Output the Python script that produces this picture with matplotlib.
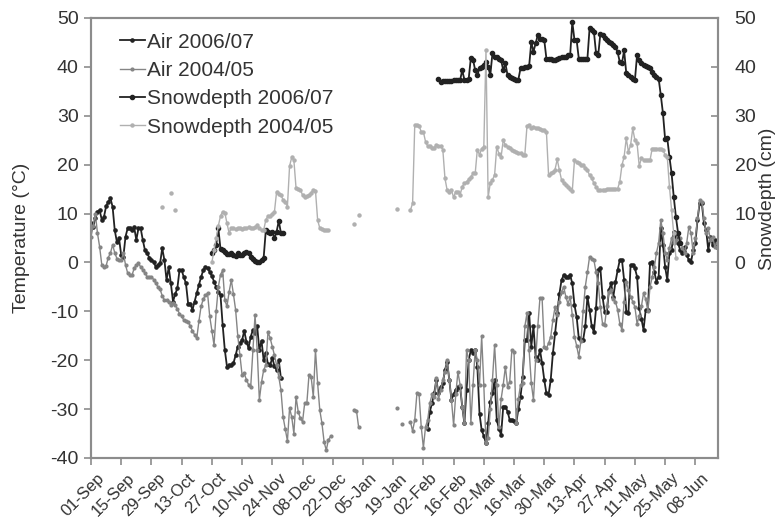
import numpy as np
import matplotlib
matplotlib.use("Agg")
import matplotlib.pyplot as plt
import matplotlib.transforms as mtransforms

plt.rcParams['font.family'] = ['Liberation Sans', 'DejaVu Sans']
plt.rcParams['axes.unicode_minus'] = False

# day 0 = 01-Sep, one value per day
n_days = 291
tick_days = list(range(0, 281, 14))
tick_labels = ['01-Sep', '15-Sep', '29-Sep', '13-Oct', '27-Oct', '10-Nov', '24-Nov',
               '08-Dec', '22-Dec', '05-Jan', '19-Jan', '02-Feb', '16-Feb', '02-Mar',
               '16-Mar', '30-Mar', '13-Apr', '27-Apr', '11-May', '25-May', '08-Jun']

# Air temperature 2006/07 (deg C): days 0-88 and 156-290
air0607_fall = [8.0, 7.3, 9.0, 10.4, 10.7, 8.7, 9.3, 11.5, 12.4, 13.1,
                11.4, 6.6, 4.2, 4.9, 1.5, 1.2, 5.3, 7.0, 7.0, 6.6,
                7.2, 4.6, 7.0, 7.0, 4.6, 2.5, 1.9, 1.0, 0.5, 0.1,
                -0.9, -0.5, -0.2, 2.9, 0.5, -3.6, -1.0, -4.3, -8.0, -6.5,
                -5.3, -1.6, -1.6, -3.0, -4.3, -8.4, -8.4, -9.7, -8.0, -6.3,
                -4.6, -3.0, -1.6, -1.0, -1.2, -1.9, -2.8, -3.9, -5.0, -6.0,
                -6.7, -12.8, -17.9, -21.3, -21.0, -21.0, -20.6, -19.0, -17.2, -16.5,
                -15.9, -14.0, -16.2, -17.5, -15.2, -13.8, -14.5, -13.1, -17.9, -16.0,
                -20.0, -18.5, -20.8, -21.0, -19.5, -21.2, -22.0, -20.0, -23.7]
air0607_spring = [-34.0, -30.5, -28.8, -26.8, -24.0, -26.8, -25.5, -24.7, -22.0, -20.3,
                  -24.0, -28.1, -27.0, -26.0, -25.4, -25.4, -29.5, -32.9, -26.0, -20.0,
                  -17.9, -18.6, -17.9, -21.3, -30.9, -34.3, -35.5, -37.0, -32.9, -28.5,
                  -26.8, -24.0, -32.2, -34.0, -35.3, -29.5, -29.5, -30.5, -32.2, -32.2,
                  -32.5, -32.9, -30.0, -27.5, -23.4, -15.9, -15.9, -10.4, -17.2, -13.1,
                  -19.3, -20.0, -17.9, -20.6, -24.0, -26.8, -27.1, -24.0, -18.6, -14.5,
                  -10.4, -6.5, -3.6, -2.6, -2.9, -2.9, -2.6, -4.3, -8.7, -11.1,
                  -15.5, -15.9, -15.9, -13.1, -7.0, -9.7, -13.1, -14.2, -9.4, -1.6,
                  -1.2, -7.0, -10.1, -10.1, -5.6, -4.3, -7.0, -4.0, -1.6, 0.5,
                  0.5, -3.6, -10.1, -10.4, -0.5, -0.5, -1.2, -2.9, -9.4, -11.5,
                  -13.8, -9.7, -9.7, -0.2, 0.1, -2.0, -3.9, -2.9, 7.0, 3.6,
                  -0.9, -3.6, 1.9, 2.5, 6.3, 5.3, 3.9, 2.5, 1.9, 3.2,
                  1.5, 0.5, 0.1, 2.5, 3.9, 8.7, 12.1, 12.1, 8.0, 6.6,
                  2.5, 5.3, 3.6, 4.6, 3.2]

# Air temperature 2004/05 (deg C): days 0-111, a few in Jan, 148-290
air0405_fall = [5.3, 7.5, 10.0, 6.0, 3.2, -0.5, -0.9, -0.7, 1.0, 1.9,
                3.6, 2.0, 0.8, 0.5, 0.5, 1.9, -0.5, -2.2, -2.6, -2.6,
                -1.2, -0.5, -0.2, -0.9, -1.5, -2.2, -2.9, -2.9, -2.9, -3.5,
                -4.2, -5.0, -5.5, -6.8, -7.7, -7.7, -8.0, -8.7, -8.2, -8.7,
                -9.5, -10.5, -11.0, -11.8, -12.0, -12.1, -13.0, -14.0, -14.8, -15.5,
                -12.0, -9.0, -7.5, -6.7, -6.3, -11.0, -14.0, -16.9, -10.0, -5.0,
                -2.5, -1.6, -7.7, -9.0, -6.0, -3.6, -6.5, -9.7, -15.0, -19.0,
                -23.0, -22.7, -24.0, -25.0, -25.4, -18.0, -10.8, -17.9, -28.1, -24.5,
                -22.0, -21.0, -14.2, -15.5, -17.2, -19.0, -21.0, -23.4, -26.1, -31.6,
                -34.0, -36.5, -29.8, -31.6, -35.0, -27.5, -30.5, -31.9, -32.6, -28.8,
                -28.8, -23.0, -23.4, -27.5, -17.9, -24.7, -30.2, -32.9, -36.7, -38.4,
                -36.3, -35.6]
air0405_jan_days = [122, 123, 124, 142, 144]
air0405_jan = [-30.1, -30.3, -33.7, -29.8, -33.0]
air0405_spring = [-32.6, -34.5, -32.2, -26.8, -27.0, -33.6, -37.9, -33.6, -32.2, -28.8,
                  -27.0, -27.5, -23.7, -28.0, -26.1, -24.0, -22.5, -20.0, -24.0, -28.1,
                  -33.3, -27.0, -22.4, -25.0, -29.5, -32.9, -17.9, -20.0, -32.9, -25.0,
                  -17.9, -20.0, -25.0, -15.1, -25.1, -37.0, -36.0, -30.0, -24.0, -16.9,
                  -25.0, -33.6, -28.0, -25.0, -21.3, -25.4, -24.4, -17.9, -18.3, -32.9,
                  -28.0, -25.0, -24.7, -13.1, -10.4, -18.0, -24.7, -28.1, -20.0, -13.1,
                  -7.3, -7.3, -17.2, -17.6, -16.5, -15.2, -11.8, -9.1, -10.8, -8.0,
                  -6.0, -5.0, -7.0, -8.5, -7.0, -10.8, -15.2, -17.0, -19.3, -16.0,
                  -10.0, -5.0, -2.0, 1.2, 0.8, 0.5, -2.0, -4.3, -9.1, -12.5,
                  -12.8, -9.0, -6.0, -5.6, -7.5, -8.0, -9.7, -12.5, -13.8, -8.0,
                  -4.0, -5.6, -7.0, -8.0, -9.1, -12.5, -11.0, -9.0, -6.3, -7.5,
                  -10.0, -5.0, -3.0, -1.0, 2.0, 4.0, 8.7, 6.0, 2.0, 0.5,
                  3.0, 5.0, 3.9, 4.5, 6.0, 5.0, 3.0, 2.0, 4.0, 7.3,
                  6.0, 1.9, 5.0, 9.0, 12.8, 12.4, 9.0, 6.0, 7.0, 4.6,
                  5.3, 3.2, 4.0]

# Snow depth 2006/07 (cm): days 56-89 and 161-273
snow0607_fall = [2.0, 2.5, 3.5, 7.0, 2.7, 2.5, 2.2, 1.7, 1.7, 1.9,
                 1.5, 1.3, 2.0, 1.5, 1.5, 1.9, 2.2, 2.0, 1.2, 0.8,
                 0.3, 0.1, 0.1, 0.5, 1.0, 6.6, 6.3, 6.1, 6.3, 4.9,
                 6.3, 8.5, 6.0, 6.1]
snow0607_spring = [37.6, 37.0, 37.2, 37.2, 37.2, 37.2, 37.2, 37.3, 37.3, 37.3,
                   37.3, 39.3, 37.4, 37.4, 37.6, 41.9, 41.5, 39.3, 38.3, 39.7,
                   40.0, 40.4, 41.0, 40.0, 38.3, 42.8, 42.1, 42.0, 41.7, 41.4,
                   39.3, 40.7, 38.3, 38.0, 37.8, 37.6, 37.4, 37.4, 39.7, 39.8,
                   40.0, 40.0, 40.2, 45.1, 43.1, 44.8, 46.5, 45.8, 45.7, 45.5,
                   41.7, 41.7, 41.7, 41.5, 41.4, 41.6, 41.8, 42.1, 42.1, 42.1,
                   42.4, 42.4, 49.2, 45.5, 45.5, 41.7, 41.7, 41.7, 41.7, 41.7,
                   47.9, 47.5, 47.2, 42.8, 42.4, 46.8, 46.5, 46.0, 45.5, 45.1,
                   44.8, 44.5, 44.1, 43.0, 41.0, 40.7, 43.4, 38.7, 38.3, 38.0,
                   37.6, 37.3, 42.4, 41.5, 40.7, 40.4, 40.2, 40.0, 39.7, 39.0,
                   38.3, 37.9, 37.6, 34.2, 30.5, 25.2, 25.4, 21.6, 18.2, 13.4,
                   9.3, 6.0, 4.0]

# Snow depth 2004/05 (cm): scattered days, 56-110 and 148-271
snow0405_dots_days = [33, 37, 39, 122, 124, 142]
snow0405_dots = [11.3, 14.3, 10.8, 7.9, 9.7, 10.9]
snow0405_fall = [0.0, 2.5, 5.0, 7.5, 9.5, 10.4, 10.2, 8.0, 6.0, 7.1,
                 7.0, 6.8, 7.0, 7.0, 6.8, 7.0, 7.0, 7.2, 7.0, 7.0,
                 7.2, 7.6, 7.0, 6.6, 6.6, 8.7, 9.5, 9.5, 10.0, 10.4,
                 14.5, 14.0, 13.8, 12.8, 12.4, 11.4, 19.7, 21.5, 20.9, 15.2,
                 15.0, 14.9, 13.8, 13.4, 13.6, 13.8, 14.3, 14.8, 14.7, 8.7,
                 7.0, 6.8, 6.6, 6.6, 6.6]
snow0405_spring = [10.7, 12.1, 28.1, 28.1, 28.0, 26.7, 26.7, 24.7, 23.8, 23.8,
                   23.5, 23.5, 24.0, 23.8, 23.8, 23.1, 17.2, 14.8, 14.5, 14.8,
                   13.3, 14.5, 14.5, 13.8, 15.5, 16.2, 16.5, 17.0, 17.5, 18.2,
                   18.2, 23.1, 22.0, 23.3, 23.7, 43.4, 13.3, 16.3, 16.9, 17.9,
                   23.7, 22.2, 21.6, 25.0, 24.0, 23.7, 23.5, 23.0, 22.8, 22.6,
                   22.4, 22.3, 22.0, 22.0, 27.9, 28.1, 27.4, 27.8, 27.6, 27.4,
                   27.2, 27.1, 27.0, 26.7, 17.9, 18.2, 18.5, 19.0, 21.1, 18.9,
                   16.9, 16.2, 15.8, 15.5, 15.0, 14.7, 20.9, 20.5, 20.3, 20.0,
                   19.9, 19.4, 18.9, 17.8, 17.2, 16.2, 15.5, 14.8, 14.8, 14.9,
                   14.9, 15.0, 15.0, 15.0, 15.1, 15.1, 15.1, 16.5, 19.9, 21.6,
                   25.4, 22.6, 24.0, 27.4, 25.0, 24.4, 19.7, 21.3, 21.0, 20.9,
                   20.9, 20.9, 23.3, 23.3, 23.3, 23.3, 23.2, 23.0, 22.0, 21.6,
                   15.5, 10.7, 6.0, 1.0]


def daily(parts):
    # build one daily series with gaps (NaN) from (start day, values) pieces
    arr = np.full(n_days, np.nan)
    for start, vals in parts:
        arr[start:start + len(vals)] = vals
    return arr


days = np.arange(n_days)
air0607 = daily([(0, air0607_fall), (156, air0607_spring)])
air0405 = daily([(0, air0405_fall), (148, air0405_spring)])
for d, v in zip(air0405_jan_days, air0405_jan):
    air0405[d] = v
snow0607 = daily([(56, snow0607_fall), (161, snow0607_spring)])
snow0405 = daily([(56, snow0405_fall), (148, snow0405_spring)])
for d, v in zip(snow0405_dots_days, snow0405_dots):
    snow0405[d] = v

fig = plt.figure(figsize=(7.81, 5.24), dpi=100)
ax = fig.add_axes([91 / 781, 1 - 458 / 524, 627 / 781, 440 / 524])
ax2 = ax.twinx()

black = '#222222'
grey = '#858585'
light = '#b0b0b0'
frame = '#8c8c8c'
txt = '#333333'

l1, = ax.plot(days, air0607, color=black, lw=1.3, marker='o', ms=2.3, label='Air 2006/07')
l2, = ax.plot(days, air0405, color=grey, lw=1.0, marker='o', ms=2.0, label='Air 2004/05')
l3, = ax2.plot(days, snow0607, color=black, lw=1.3, marker='o', ms=3.0, label='Snowdepth 2006/07')
l4, = ax2.plot(days, snow0405, color=light, lw=1.0, marker='o', ms=2.2, label='Snowdepth 2004/05')

for a in (ax, ax2):
    a.set_xlim(0, 290.5)
    a.set_ylim(-40, 50)
    for s in a.spines.values():
        s.set_color(frame)
        s.set_linewidth(1.5)

ax.set_yticks(range(-40, 51, 10))
ax2.set_yticks(range(0, 51, 10))
ax.set_xticks(tick_days)
ax.set_xticklabels(tick_labels, rotation=45, ha='right', rotation_mode='anchor', fontsize=12)
ax.tick_params(axis='y', direction='out', length=5, width=1.2, colors=frame,
               labelcolor=txt, labelsize=14, pad=4)
ax.tick_params(axis='x', direction='out', length=5, width=1.2, colors=frame,
               labelcolor=txt, pad=3)
ax2.tick_params(axis='y', direction='in', length=5, width=1.2, colors=frame,
                labelcolor=txt, labelsize=14, pad=12)
# nudge the slanted date labels a little to the right, as in the original
shift = mtransforms.ScaledTranslation(6 / 100, -1 / 100, fig.dpi_scale_trans)
for lab in ax.get_xticklabels():
    lab.set_transform(lab.get_transform() + shift)

ax.set_ylabel('Temperature (°C)', fontsize=14, color=txt)
ax.yaxis.set_label_coords(-0.097, 0.5)
ax2.set_ylabel('Snowdepth (cm)', fontsize=14, color=txt)
ax2.yaxis.set_label_coords(1.066, 0.59)

leg = ax2.legend(handles=[l1, l2, l3, l4], loc='upper left', bbox_to_anchor=(0.046, 0.967),
                 frameon=False, fontsize=15, handlelength=1.2, handletextpad=0.1,
                 labelspacing=0.45, borderpad=0, borderaxespad=0)
for t in leg.get_texts():
    t.set_color(txt)

fig.savefig('out.png', dpi=100)
